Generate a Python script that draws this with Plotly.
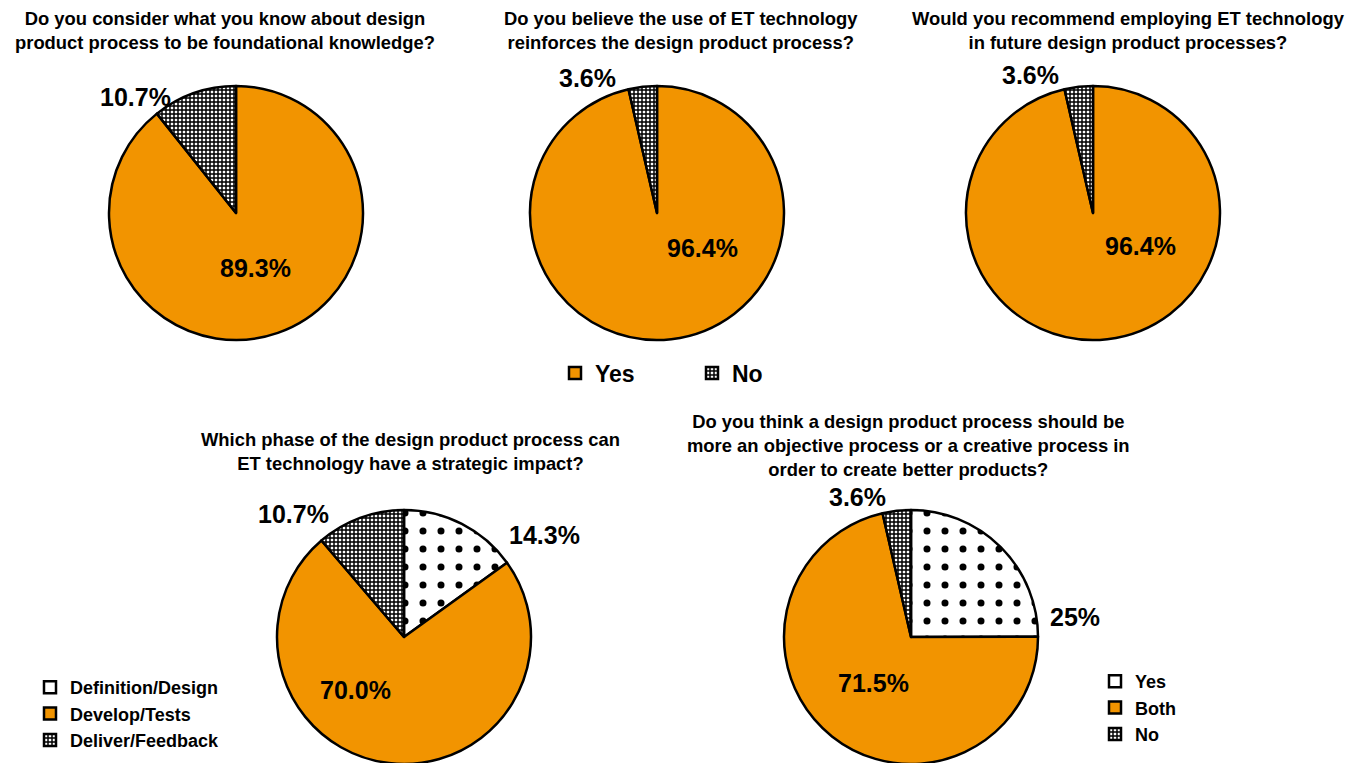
import plotly.graph_objects as go

# ---------------- data ----------------
yes_no_labels = ["Yes", "No"]
q1_values = [89.3, 10.7]
q2_values = [96.4, 3.6]
q3_values = [96.4, 3.6]

phase_labels = ["Definition/Design", "Develop/Tests", "Deliver/Feedback"]
phase_values = [14.3, 70.0, 10.7]

# trailing spaces keep these entries separate from the Yes/No legend above
mode_labels = ["Yes ", "Both", "No "]
mode_values = [25.0, 71.5, 3.6]

titles = [
    "Do you consider what you know about design<br>product process to be foundational knowledge?",
    "Do you believe the use of ET technology<br>reinforces the design product process?",
    "Would you recommend employing ET technology<br>in future design product processes?",
    "Which phase of the design product process can<br>ET technology have a strategic impact?",
    "Do you think a design product process should be<br>more an objective process or a creative process in<br>order to create better products?",
]

pct_text = [
    ["89.3%", "10.7%"],
    ["96.4%", "3.6%"],
    ["96.4%", "3.6%"],
    ["14.3%", "70.0%", "10.7%"],
    ["25%", "71.5%", "3.6%"],
]

# ---------------- layout helpers ----------------
W, H = 1365, 780
FONT = "Liberation Sans, Arial, sans-serif"
ORANGE = "#F29400"


def px(x):
    return x / W


def py(y):
    return 1 - y / H


def dom(cx, cy, r=127):
    return dict(x=[px(cx - r), px(cx + r)], y=[py(cy + r), py(cy - r)])


line = dict(color="black", width=2.5)

fig = go.Figure()

centers_top = [(236, 213), (657, 213), (1093, 213)]
for i, vals in enumerate([q1_values, q2_values, q3_values]):
    fig.add_trace(go.Pie(
        labels=yes_no_labels, values=vals, sort=False, direction="clockwise",
        rotation=0, textinfo="none", hoverinfo="label+percent",
        marker=dict(colors=[ORANGE, "white"], line=line,
                    pattern=dict(shape=["", "+"], fgcolor="black",
                                 bgcolor=[ORANGE, "white"], size=4, solidity=0.6)),
        domain=dom(*centers_top[i]), legend="legend", showlegend=True,
    ))

fig.add_trace(go.Pie(
    labels=phase_labels, values=phase_values, sort=False, direction="clockwise",
    rotation=0, textinfo="none",
    marker=dict(colors=["white", ORANGE, "white"], line=line,
                pattern=dict(shape=[".", "", "+"], fgcolor="black",
                             bgcolor=["white", ORANGE, "white"],
                             size=[18, 4, 4], solidity=[0.12, 0.6, 0.6])),
    domain=dom(404, 637), legend="legend2",
))

fig.add_trace(go.Pie(
    labels=mode_labels, values=mode_values, sort=False, direction="clockwise",
    rotation=0, textinfo="none",
    marker=dict(colors=["white", ORANGE, "white"], line=line,
                pattern=dict(shape=[".", "", "+"], fgcolor="black",
                             bgcolor=["white", ORANGE, "white"],
                             size=[18, 4, 4], solidity=[0.12, 0.6, 0.6])),
    domain=dom(911, 637), legend="legend3",
))

annotations = []
# titles
title_pos = [(225, 31), (681, 31), (1128, 31), (410, 451), (908, 445)]
for t, (x, y) in zip(titles, title_pos):
    annotations.append(dict(text=t, x=px(x), y=py(y), xref="paper", yref="paper",
                            xanchor="center", yanchor="middle", showarrow=False,
                            font=dict(family=FONT, size=18.4, color="black", weight="bold")))

# percentage labels
pct_pos = [
    [(255, 268), (135, 97)],
    [(703, 248), (587, 78)],
    [(1140, 246), (1030, 75)],
    [(544, 535), (355, 690), (293, 514)],
    [(1075, 617), (874, 683), (857, 497)],
]
for texts, poss in zip(pct_text, pct_pos):
    for t, (x, y) in zip(texts, poss):
        annotations.append(dict(text=t, x=px(x), y=py(y), xref="paper", yref="paper",
                                xanchor="center", yanchor="middle", showarrow=False,
                                font=dict(family=FONT, size=25, color="black", weight="bold")))

fig.update_layout(
    width=W, height=H,
    margin=dict(l=0, r=0, t=0, b=0),
    paper_bgcolor="white", plot_bgcolor="white",
    font=dict(family=FONT, color="black"),
    annotations=annotations,
    legend=dict(orientation="h", x=px(555), y=py(373), xanchor="left", yanchor="middle",
                entrywidth=92, entrywidthmode="pixels",
                font=dict(family=FONT, size=23, color="black", weight="bold"),
                bgcolor="rgba(0,0,0,0)"),
    legend2=dict(orientation="v", x=px(30), y=py(669), xanchor="left", yanchor="top",
                 font=dict(family=FONT, size=18, color="black", weight="bold"),
                 bgcolor="rgba(0,0,0,0)"),
    legend3=dict(orientation="v", x=px(1095), y=py(663), xanchor="left", yanchor="top",
                 font=dict(family=FONT, size=18, color="black", weight="bold"),
                 bgcolor="rgba(0,0,0,0)"),
)

fig.write_html("out.html", config={"displayModeBar": False},
               post_script="document.body.style.margin='0';document.body.style.overflow='hidden';")
